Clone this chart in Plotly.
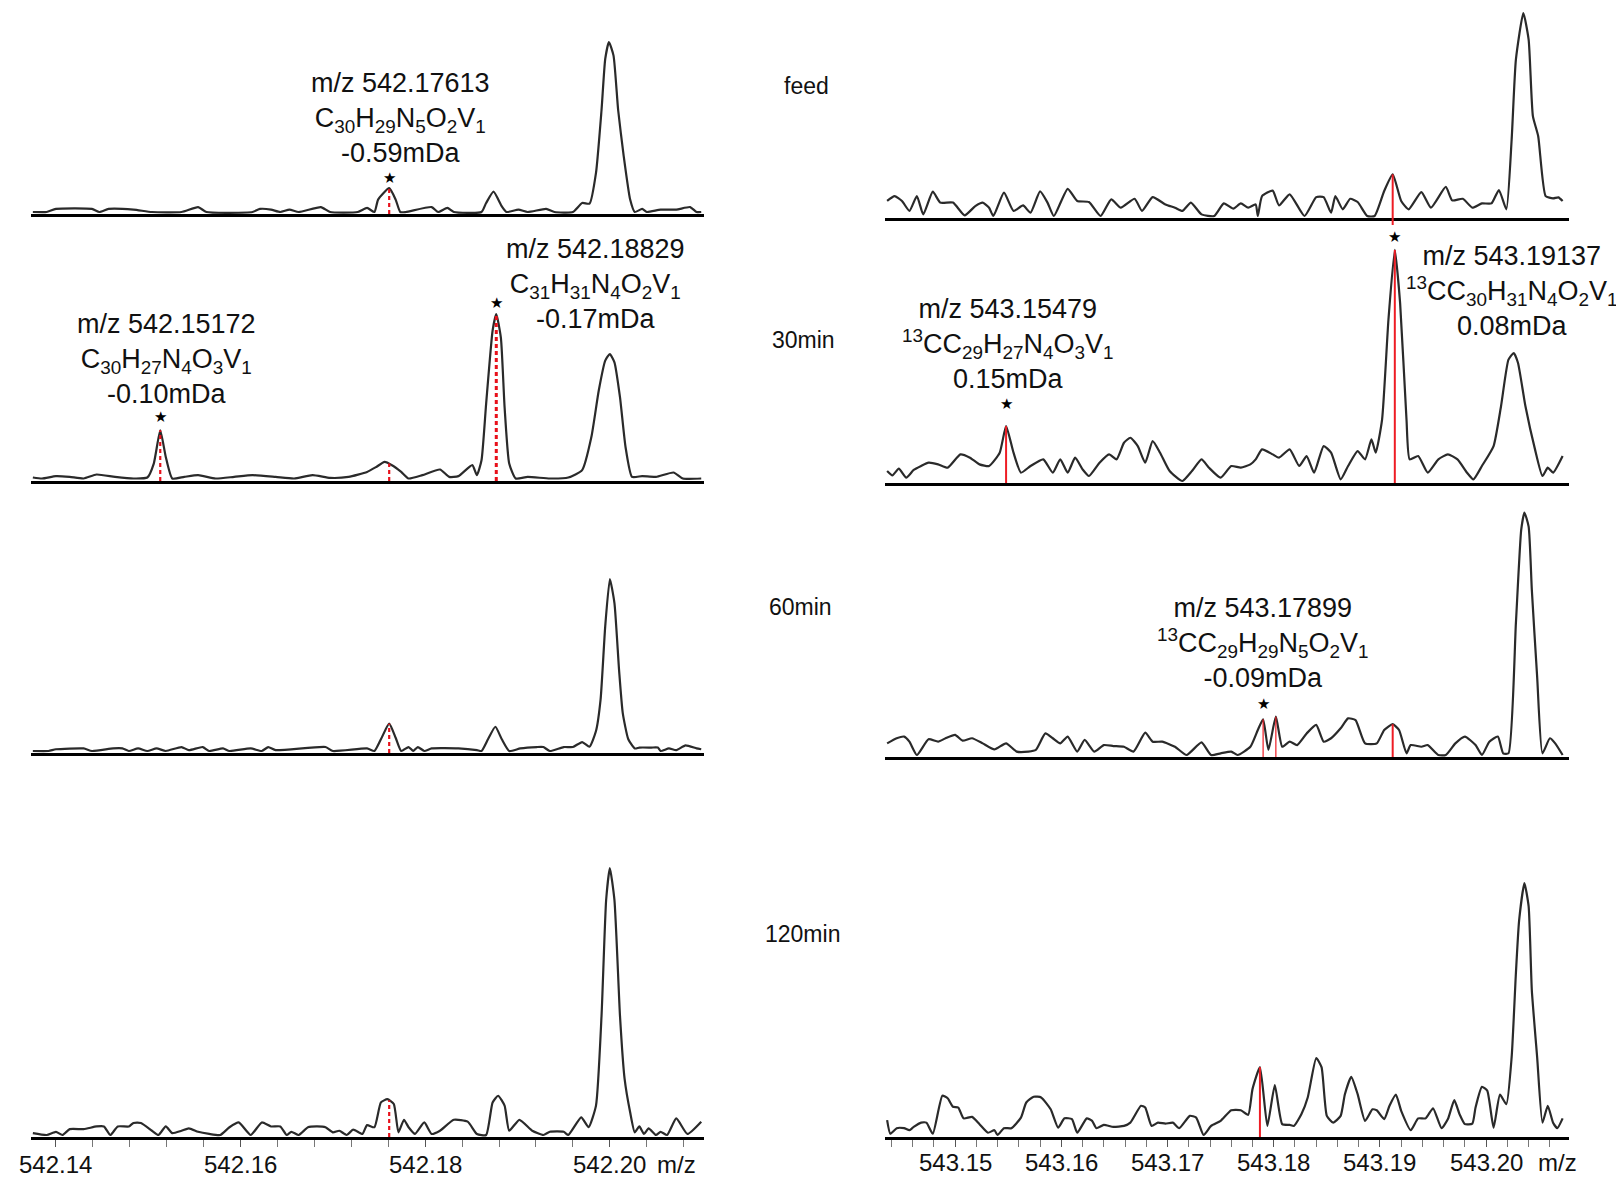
import plotly.graph_objects as go

# ---------------- DATA (m/z, relative intensity; base peak of each panel = 100) ----------------
feed_L_mz = [542.1375, 542.1390, 542.1400, 542.1439, 542.1447, 542.1457, 542.1484, 542.1504, 542.1536, 542.1554,
             542.1563, 542.1613, 542.1621, 542.1633, 542.1643, 542.1653, 542.1663, 542.1687, 542.1697, 542.1727,
             542.1737, 542.1745, 542.1749, 542.1761, 542.1768, 542.1773, 542.1779, 542.1807, 542.1814, 542.1824,
             542.1831, 542.1861, 542.1866, 542.1874, 542.1883, 542.1888, 542.1901, 542.1911, 542.1931, 542.1940,
             542.1960, 542.1970, 542.1978, 542.1985, 542.1991, 542.1995, 542.1999, 542.2004, 542.2009, 542.2015,
             542.2022, 542.2027, 542.2035, 542.2040, 542.2055, 542.2072, 542.2087, 542.2094, 542.2099]
feed_L_int = [0, 0, 1.8, 1.8, 0, 1.8, 1.4, 0, 0, 2.9,
              0, 0, 1.8, 1.4, 0, 1.4, 0, 2.9, 0, 0,
              2.4, 0, 7.3, 14, 7.3, 0, 0, 2.9, 0, 2.4,
              0, 0, 5.3, 12, 3.3, 0, 1.4, 0, 1.8, 0,
              0, 5.3, 4.9, 23, 60, 90, 100, 92, 60, 33,
              7.3, 0, 1.8, 0, 1.4, 1.4, 2.9, 0, 0]

min30_L_mz = [542.1375, 542.1385, 542.1400, 542.1415, 542.1430, 542.1444, 542.1464, 542.1484, 542.1499, 542.1506,
              542.1513, 542.1519, 542.1526, 542.1539, 542.1554, 542.1573, 542.1593, 542.1613, 542.1638, 542.1658,
              542.1678, 542.1697, 542.1717, 542.1737, 542.1747, 542.1756, 542.1764, 542.1774, 542.1782, 542.1797,
              542.1816, 542.1826, 542.1836, 542.1851, 542.1856, 542.1861, 542.1866, 542.1873, 542.1877, 542.1882,
              542.1886, 542.1891, 542.1898, 542.1911, 542.1935, 542.1955, 542.1970, 542.1980, 542.1988, 542.1995,
              542.2000, 542.2005, 542.2011, 542.2017, 542.2024, 542.2035, 542.2050, 542.2069, 542.2079, 542.2099]
min30_L_int = [0.8, 0, 1.9, 1.3, 0, 3.2, 1.3, 0, 0.8, 12,
               38.7, 17.3, 0, 1.3, 2.7, 0, 1.3, 2.7, 1.3, 0,
               2.7, 0.5, 1.3, 5.3, 9.3, 13.3, 10.7, 5.3, 0, 2.7,
               7.2, 1.3, 1.9, 10.7, 2.7, 14.7, 60, 118.7, 132, 113,
               57.3, 12, 0, 1.3, 0, 0.8, 6.7, 33.3, 70.7, 94.7,
               100, 93.3, 65.3, 25.3, 1.3, 1.9, 1.3, 4.8, 0, 0]

min60_L_mz = [542.1375, 542.1392, 542.1400, 542.1430, 542.1439, 542.1462, 542.1472, 542.1479, 542.1489, 542.1499,
              542.1509, 542.1519, 542.1536, 542.1544, 542.1559, 542.1566, 542.1581, 542.1588, 542.1611, 542.1623,
              542.1630, 542.1638, 542.1692, 542.1700, 542.1737, 542.1745, 542.1752, 542.1761, 542.1768, 542.1774,
              542.1782, 542.1787, 542.1792, 542.1799, 542.1807, 542.1836, 542.1856, 542.1861, 542.1868, 542.1876,
              542.1883, 542.1891, 542.1903, 542.1921, 542.1928, 542.1935, 542.1950, 542.1960, 542.1970, 542.1978,
              542.1985, 542.1990, 542.1995, 542.2000, 542.2005, 542.2010, 542.2014, 542.2020, 542.2027, 542.2032,
              542.2045, 542.2052, 542.2055, 542.2064, 542.2072, 542.2082, 542.2094, 542.2099]
min60_L_int = [0, 0, 1, 1.5, 0, 1.5, 1.5, 0, 1.5, 0,
               1.5, 0, 2.3, 0.5, 2.3, 0, 1.5, 0, 1.5, 0,
               2.3, 0.5, 2.3, 0, 1.5, 0, 6.8, 15.9, 7.7, 0,
               2.3, 0, 2.3, 0, 1.5, 1.5, 0.5, 0, 6.8, 14.1,
               6.8, 0, 1.5, 2.3, 2.3, 0, 2.3, 2.3, 5.2, 2.5,
               11.6, 30, 72.5, 100, 86, 47, 22, 6.8, 1.5, 2,
               2, 2, 0, 1.5, 0.5, 3.3, 1.5, 1]

min120_L_mz = [542.1375, 542.1390, 542.1400, 542.1407, 542.1415, 542.1430, 542.1444, 542.1452, 542.1459, 542.1467,
               542.1479, 542.1484, 542.1492, 542.1504, 542.1511, 542.1519, 542.1526, 542.1536, 542.1544, 542.1554,
               542.1566, 542.1578, 542.1588, 542.1598, 542.1611, 542.1623, 542.1633, 542.1643, 542.1650, 542.1655,
               542.1663, 542.1673, 542.1683, 542.1692, 542.1700, 542.1707, 542.1715, 542.1722, 542.1732, 542.1737,
               542.1745, 542.1752, 542.1759, 542.1766, 542.1771, 542.1777, 542.1782, 542.1789, 542.1799, 542.1807,
               542.1816, 542.1831, 542.1846, 542.1856, 542.1866, 542.1873, 542.1879, 542.1886, 542.1891, 542.1902,
               542.1916, 542.1928, 542.1935, 542.1950, 542.1955, 542.1969, 542.1977, 542.1985, 542.1991, 542.1996,
               542.2000, 542.2005, 542.2011, 542.2016, 542.2022, 542.2027, 542.2032, 542.2037, 542.2042, 542.2050,
               542.2055, 542.2062, 542.2072, 542.2084, 542.2099]
min120_L_int = [0.7, 0, 1.2, 0, 2.2, 2.2, 3.2, 3.2, 0, 3.2,
                3.2, 4.5, 4.5, 1.6, 0, 3.2, 0.7, 1.6, 2.5, 1.2,
                0.4, 0, 2.9, 4.7, 0, 4.7, 3.2, 3.2, 0, 1.2,
                0, 2.9, 3.2, 2.9, 1, 1.6, 0, 2, 0.4, 3.7,
                2.9, 12.2, 13.4, 11.6, 1, 5.7, 2.9, 0.4, 4.7, 0.4,
                1.6, 5.7, 5, 0.4, 0, 12.2, 14.7, 11, 1.6, 5.7,
                1.6, 0, 1.2, 1.2, 0, 6.6, 2.9, 11, 44.6, 88,
                100, 88, 44.6, 21, 8.5, 1, 3.2, 0.4, 2.5, 0,
                1.2, 0, 6.2, 0.4, 5]

feed_R_mz = [543.1436, 543.1443, 543.1450, 543.1457, 543.1464, 543.1470, 543.1479, 543.1486, 543.1498, 543.1509,
             543.1519, 543.1526, 543.1532, 543.1536, 543.1546, 543.1555, 543.1564, 543.1571, 543.1580, 543.1587,
             543.1593, 543.1606, 543.1615, 543.1626, 543.1637, 543.1647, 543.1656, 543.1669, 543.1676, 543.1686,
             543.1698, 543.1707, 543.1714, 543.1722, 543.1732, 543.1744, 543.1753, 543.1762, 543.1769, 543.1776,
             543.1783, 543.1785, 543.1789, 543.1799, 543.1805, 543.1815, 543.1829, 543.1840, 543.1847, 543.1854,
             543.1858, 543.1865, 543.1872, 543.1879, 543.1888, 543.1895, 543.1904, 543.1912, 543.1920, 543.1927,
             543.1939, 543.1948, 543.1962, 543.1968, 543.1978, 543.1987, 543.1996, 543.2005, 543.2012, 543.2019,
             543.2024, 543.2028, 543.2035, 543.2040, 543.2044, 543.2049, 543.2056, 543.2063, 543.2068, 543.2072]
feed_R_int = [7.4, 9.8, 7.4, 2.5, 9.8, 0.8, 12, 6.6, 6.6, 0.3,
              4.9, 6.6, 4.1, 0, 11.5, 2.5, 5.2, 1.6, 12.1, 6.6,
              0, 13.4, 7.4, 6.9, 0, 8.2, 4.1, 8.5, 2.5, 9.3,
              5.7, 4.1, 2.5, 6.6, 0.8, 0, 6.2, 3.6, 6.2, 4.1,
              5.7, 0, 9.8, 12.5, 5.2, 10.7, 0, 9.3, 9.3, 1.6,
              9.8, 3.3, 8.5, 6.9, 0, 0, 12.3, 20.5, 7.4, 3.3,
              11.8, 4.1, 14.3, 7.7, 8.5, 4.1, 6.2, 6.2, 12.8, 3.3,
              37.7, 77, 100, 86.9, 49.2, 39.3, 9.8, 8.7, 9.2, 7.4]

min30_R_mz = [543.1436, 543.1441, 543.1447, 543.1454, 543.1461, 543.1468, 543.1475, 543.1484, 543.1493, 543.1505,
              543.1514, 543.1523, 543.1532, 543.1542, 543.1548, 543.1555, 543.1562, 543.1571, 543.1583, 543.1592,
              543.1599, 543.1606, 543.1613, 543.1620, 543.1626, 543.1636, 543.1645, 543.1652, 543.1659, 543.1665,
              543.1672, 543.1679, 543.1686, 543.1693, 543.1702, 543.1714, 543.1723, 543.1732, 543.1739, 543.1750,
              543.1760, 543.1769, 543.1778, 543.1783, 543.1789, 543.1799, 543.1805, 543.1815, 543.1824, 543.1831,
              543.1838, 543.1847, 543.1854, 543.1863, 543.1870, 543.1879, 543.1886, 543.1892, 543.1896, 543.1902,
              543.1908, 543.1914, 543.1919, 543.1925, 543.1928, 543.1936, 543.1945, 543.1955, 543.1964, 543.1973,
              543.1982, 543.1988, 543.1996, 543.2007, 543.2014, 543.2021, 543.2026, 543.2030, 543.2037, 543.2046,
              543.2053, 543.2058, 543.2063, 543.2072]
min30_R_int = [7.8, 4.4, 9.6, 2.6, 8.6, 11.7, 14.3, 13, 10.4, 20.8,
               18.2, 13, 11.7, 22.1, 42.9, 22.1, 6.5, 11.7, 16.9, 6.5,
               16.9, 6.5, 18.2, 9.1, 3.9, 14.3, 20.8, 16.9, 29.9, 33.8,
               27.3, 14.3, 31.2, 22.1, 7.8, 0, 7.8, 16.9, 10.4, 2.6,
               11.7, 10.4, 13, 16.9, 24.7, 20.8, 18.2, 24.7, 11.7, 19.5,
               6.5, 27.3, 22.1, 1.3, 11.7, 23.4, 16.9, 32.5, 22.1, 48,
               126, 180.5, 139, 48, 16.9, 19.5, 6.5, 16.9, 20.8, 16.9,
               6.5, 1.3, 11.7, 27.3, 58.4, 94.8, 100, 92.2, 58.4, 24.7,
               3.9, 10.4, 6.5, 19.5]

min60_R_mz = [543.1436, 543.1445, 543.1452, 543.1457, 543.1464, 543.1475, 543.1484, 543.1491, 543.1500, 543.1507,
              543.1516, 543.1526, 543.1537, 543.1548, 543.1558, 543.1569, 543.1576, 543.1585, 543.1592, 543.1599,
              543.1606, 543.1615, 543.1622, 543.1631, 543.1640, 543.1649, 543.1659, 543.1668, 543.1679, 543.1686,
              543.1695, 543.1707, 543.1718, 543.1732, 543.1741, 543.1750, 543.1760, 543.1766, 543.1778, 543.1785,
              543.1790, 543.1795, 543.1802, 543.1808, 543.1815, 543.1822, 543.1831, 543.1840, 543.1847, 543.1854,
              543.1863, 543.1870, 543.1877, 543.1886, 543.1897, 543.1904, 543.1912, 543.1918, 543.1925, 543.1929,
              543.1939, 543.1945, 543.1955, 543.1962, 543.1971, 543.1980, 543.1990, 543.1996, 543.2003, 543.2011,
              543.2016, 543.2021, 543.2028, 543.2033, 543.2036, 543.2040, 543.2043, 543.2048, 543.2053, 543.2060,
              543.2065, 543.2072]
min60_R_int = [4.8, 6.9, 7.6, 5.5, 0, 6.5, 5.5, 6.9, 8.3, 5.9,
               6.9, 4.8, 2.3, 4.8, 1.4, 1.4, 2.1, 8.9, 6.9, 4.8,
               7.6, 1.4, 6.2, 1.4, 4.1, 3.7, 3.4, 1.4, 9.2, 5.5,
               5.5, 3.4, 0, 5.2, 0, 0.7, 1.4, 0, 3.4, 10.3,
               14.7, 2.1, 15.8, 3.4, 5.5, 4.1, 8.9, 12.4, 5.5, 6.9,
               11, 15.1, 14.4, 4.8, 4.8, 10.3, 12.7, 10.3, 0.7, 4.1,
               3.4, 4.1, 0, 0, 4.8, 7.6, 4.1, 0, 5.5, 7.6,
               0.7, 0.7, 54.3, 92.8, 100, 94.2, 68.1, 32.3, 0.7, 6.9,
               4.8, 0]

min120_R_mz = [543.1436, 543.1439, 543.1445, 543.1452, 543.1457, 543.1461, 543.1468, 543.1473, 543.1479, 543.1488,
               543.1493, 543.1498, 543.1503, 543.1508, 543.1516, 543.1523, 543.1531, 543.1537, 543.1540, 543.1546,
               543.1553, 543.1562, 543.1567, 543.1574, 543.1581, 543.1590, 543.1597, 543.1603, 543.1610, 543.1615,
               543.1624, 543.1629, 543.1633, 543.1640, 543.1649, 543.1659, 543.1665, 543.1675, 543.1679, 543.1685,
               543.1691, 543.1698, 543.1705, 543.1711, 543.1721, 543.1727, 543.1734, 543.1741, 543.1750, 543.1760,
               543.1769, 543.1776, 543.1780, 543.1787, 543.1794, 543.1801, 543.1808, 543.1815, 543.1819, 543.1826,
               543.1832, 543.1840, 543.1845, 543.1850, 543.1856, 543.1863, 543.1867, 543.1873, 543.1879, 543.1886,
               543.1893, 543.1897, 543.1904, 543.1909, 543.1915, 543.1920, 543.1929, 543.1936, 543.1943, 543.1950,
               543.1958, 543.1964, 543.1970, 543.1975, 543.1980, 543.1987, 543.1990, 543.1996, 543.2001, 543.2007,
               543.2013, 543.2019, 543.2024, 543.2028, 543.2031, 543.2036, 543.2040, 543.2043, 543.2048, 543.2053,
               543.2058, 543.2063, 543.2067, 543.2072]
min120_R_int = [5.9, 0.5, 2.7, 2.7, 1.9, 3.2, 4.9, 4.9, 0.5, 15.6,
                14.6, 11.2, 10.9, 6.6, 7.2, 4.3, 0.9, 1.9, 0, 2.7,
                2.7, 6.9, 12.9, 15.2, 14.9, 10.2, 2.9, 6.6, 6.3, 0.9,
                6.6, 5.6, 2.7, 4, 3.2, 3.6, 4.9, 11.6, 10.9, 3.6,
                4.9, 4.5, 4.9, 2.7, 7.6, 6.9, 0, 3.6, 5.6, 9.8,
                9.8, 8, 18.2, 26.9, 3.6, 19.8, 4.3, 4, 3.6, 8.2,
                14.9, 30.5, 26.9, 7.6, 4.9, 7.6, 16.2, 23.1, 16.2, 5.6,
                10.2, 9.8, 6.3, 11.6, 16, 9.6, 1.9, 6.6, 6.6, 10.6,
                2.7, 6.3, 13.8, 8.2, 4.3, 4.5, 10.9, 19.1, 17.6, 2.9,
                16, 12.2, 30.9, 64.1, 85, 100, 90.7, 57.4, 30.9, 4.9,
                11.6, 4.9, 2.7, 6.6]

# axis tick labels
left_ticks = [542.14, 542.16, 542.18, 542.20]
right_ticks = [543.15, 543.16, 543.17, 543.18, 543.19, 543.20]

# panel labels (sampling time)
time_labels = ["feed", "30min", "60min", "120min"]

# assigned peaks marked by red lines: panel, m/z, intensity at the line top
marked_panel = [1, 3, 3, 3, 5, 7, 2, 4, 4, 6, 6, 6, 8]
marked_mz = [542.1761, 542.1513, 542.1761, 542.1877, 542.1761, 542.1761,
             543.1912, 543.1548, 543.1914, 543.1790, 543.1802, 543.1912, 543.1787]
marked_int = [14, 38.7, 12, 132, 15.9, 13, 20.5, 42.9, 180.5, 14.7, 15.8, 12.7, 26.9]

# starred peaks
star_panel = [1, 3, 3, 4, 4, 6]
star_mz = [542.1761, 542.1513, 542.1877, 543.1548, 543.1914, 543.1790]
star_int = [14, 38.7, 132, 42.9, 180.5, 14.7]

# peak assignments (m/z, formula, error)
assign_mz = ["m/z 542.17613", "m/z 542.15172", "m/z 542.18829", "m/z 543.15479", "m/z 543.19137", "m/z 543.17899"]
assign_formula = [
    "C<sub>30</sub>H<sub>29</sub>N<sub>5</sub>O<sub>2</sub>V<sub>1</sub>",
    "C<sub>30</sub>H<sub>27</sub>N<sub>4</sub>O<sub>3</sub>V<sub>1</sub>",
    "C<sub>31</sub>H<sub>31</sub>N<sub>4</sub>O<sub>2</sub>V<sub>1</sub>",
    "<sup>13</sup>CC<sub>29</sub>H<sub>27</sub>N<sub>4</sub>O<sub>3</sub>V<sub>1</sub>",
    "<sup>13</sup>CC<sub>30</sub>H<sub>31</sub>N<sub>4</sub>O<sub>2</sub>V<sub>1</sub>",
    "<sup>13</sup>CC<sub>29</sub>H<sub>29</sub>N<sub>5</sub>O<sub>2</sub>V<sub>1</sub>",
]
assign_err = ["-0.59mDa", "-0.10mDa", "-0.17mDa", "0.15mDa", "0.08mDa", "-0.09mDa"]

# ---------------- LAYOUT GEOMETRY (window pixels) ----------------
WIN_W, WIN_H = 1624, 1178
BODY = 8                      # default page margin around the plot div
W, H = WIN_W - BODY, WIN_H - BODY
FONT = "Liberation Sans, Arial, Helvetica, sans-serif"

# panel -> (axis line px, trace floor px, px of intensity 100, domain top px)
geom = {
    1: (214, 212, 42, 9),
    2: (218, 216, 13, 9),
    3: (481, 478.5, 354, 230),
    4: (483, 481, 353, 230),
    5: (753, 751, 579, 490),
    6: (757, 755, 512.5, 490),
    7: (1137, 1135, 868, 770),
    8: (1137, 1135, 883, 770),
}
LEFT_RANGE = [542.1373, 542.2102]
RIGHT_RANGE = [543.1434, 543.2078]


def ypap(px):
    return 1 - (px - BODY) / H


def xpap(px):
    return (px - BODY) / W


LEFT_DOM = [xpap(31), xpap(704)]
RIGHT_DOM = [xpap(885), xpap(1569)]

spectra = {
    1: (feed_L_mz, feed_L_int), 2: (feed_R_mz, feed_R_int),
    3: (min30_L_mz, min30_L_int), 4: (min30_R_mz, min30_R_int),
    5: (min60_L_mz, min60_L_int), 6: (min60_R_mz, min60_R_int),
    7: (min120_L_mz, min120_L_int), 8: (min120_R_mz, min120_R_int),
}

yr = {}
fig = go.Figure()
layout = dict(width=W, height=H, margin=dict(l=0, r=0, t=0, b=0, pad=0), autosize=False,
              paper_bgcolor="white", plot_bgcolor="white", showlegend=False)

for p in range(1, 9):
    axis_px, floor_px, ref_px, top_px = geom[p]
    unit = (floor_px - ref_px) / 100.0
    ymin = -(axis_px - floor_px) / unit
    ymax = (floor_px - top_px) / unit
    yr[p] = (ymin, ymax)
    left = (p % 2 == 1)
    bottom = p >= 7
    sfx = "" if p == 1 else str(p)
    xa = dict(domain=LEFT_DOM if left else RIGHT_DOM,
              range=LEFT_RANGE if left else RIGHT_RANGE,
              anchor="y" + sfx, showgrid=False, zeroline=False, automargin=False,
              showline=True, linecolor="black", linewidth=3, layer="above traces",
              showticklabels=False, fixedrange=True)
    if bottom:
        xa.update(ticks="outside", ticklen=7, tickwidth=1, tickcolor="#555",
                  minor=dict(ticks="outside", ticklen=7, tickwidth=1, tickcolor="#777",
                             dtick=0.004 if left else 0.002,
                             tick0=542.14 if left else 543.15),
                  dtick=0.02 if left else 0.01,
                  tick0=542.14 if left else 543.15)
    else:
        xa.update(ticks="")
    ya = dict(domain=[ypap(axis_px), ypap(top_px)], range=[ymin, ymax], automargin=False,
              anchor="x" + sfx, visible=False, fixedrange=True)
    layout["xaxis" + sfx] = xa
    layout["yaxis" + sfx] = ya
    mz, inten = spectra[p]
    fig.add_trace(go.Scatter(x=mz, y=inten, mode="lines",
                             line=dict(color="#2a2a2a", width=2.2, shape="spline", smoothing=0.5),
                             xaxis="x" + sfx, yaxis="y" + sfx, hoverinfo="skip"))

fig.update_layout(**layout)

# tick labels along the bottom axes
for ticks, ax, ypx in ((left_ticks, "x7", 1164), (right_ticks, "x8", 1162)):
    for t in ticks:
        fig.add_annotation(x=t, y=ypap(ypx), xref=ax, yref="paper", text=f"{t:.2f}",
                           showarrow=False, xanchor="center", yanchor="middle",
                           font=dict(family=FONT, size=24, color="#111"))

# red marker lines
for p, m, v in zip(marked_panel, marked_mz, marked_int):
    sfx = "" if p == 1 else str(p)
    left = (p % 2 == 1)
    if left:
        line = dict(color="#e8101a", width=3 if v > 100 else 2.2, dash="4px,3px")
    else:
        thin = (p == 6 and 14 < v < 16)
        line = dict(color="#ee1c24", width=1.2 if thin else 2)
    fig.add_shape(type="line", xref="x" + sfx, yref="y" + sfx,
                  x0=m, x1=m, y0=yr[p][0], y1=v, line=line, layer="above")
# the feed (right) marker line pokes slightly below the axis
fig.add_shape(type="line", xref="x2", yref="paper", x0=marked_mz[6], x1=marked_mz[6],
              y0=ypap(geom[2][0]), y1=ypap(geom[2][0] + 7), line=dict(color="#ee1c24", width=2))

# stars
star_shift = [10, 13, 11, 22, 13, 15]
for p, m, v, s in zip(star_panel, star_mz, star_int, star_shift):
    sfx = "" if p == 1 else str(p)
    fig.add_annotation(x=m, y=v, xref="x" + sfx, yref="y" + sfx, text="★", showarrow=False,
                       yshift=s, xanchor="center", yanchor="middle",
                       font=dict(family="DejaVu Sans", size=15, color="black"))

# assignment text blocks: block centre (window px)
block_xy = [(400, 118), (166, 359), (595, 284), (1008, 344), (1512, 291), (1263, 643)]
for i, (xx, yy) in enumerate(block_xy):
    txt = assign_mz[i] + "<br>" + assign_formula[i] + "<br>" + assign_err[i]
    fig.add_annotation(x=xpap(xx), y=ypap(yy), xref="paper", yref="paper", text=txt,
                       showarrow=False, xanchor="center", yanchor="middle", align="center",
                       font=dict(family=FONT, size=27, color="#111"))

# time labels
label_xy = [(806, 86), (803, 340), (800, 607), (802, 934)]
for t, (xx, yy) in zip(time_labels, label_xy):
    fig.add_annotation(x=xpap(xx), y=ypap(yy), xref="paper", yref="paper", text=t,
                       showarrow=False, xanchor="center", yanchor="middle",
                       font=dict(family=FONT, size=23, color="#111"))

# m/z axis unit labels
for xx, yy in [(676, 1164), (1557, 1162)]:
    fig.add_annotation(x=xpap(xx), y=ypap(yy), xref="paper", yref="paper", text="m/z",
                       showarrow=False, xanchor="center", yanchor="middle",
                       font=dict(family=FONT, size=24, color="#111"))

fig.write_html("out.html")
